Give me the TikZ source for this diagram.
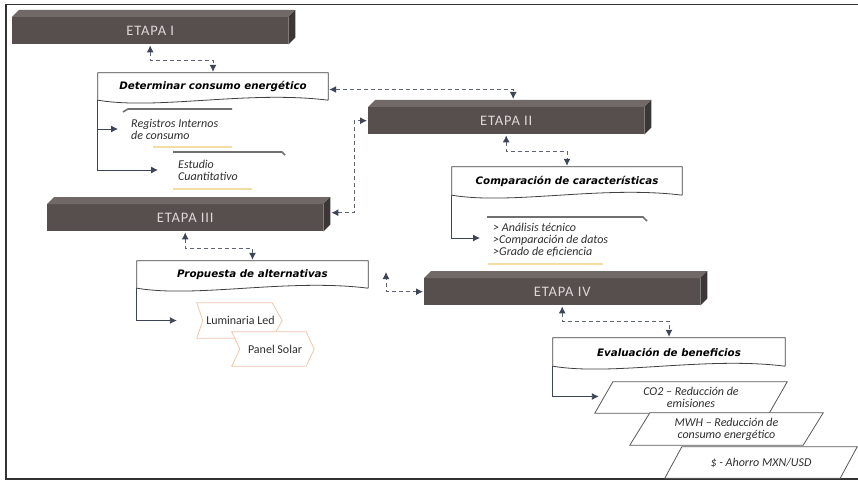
\documentclass[tikz,border=0pt]{standalone}
\usepackage{fontspec}
\setmainfont{Carlito}
\newfontfamily\titlefont{DejaVu Sans}
\newfontfamily\etapafont{Carlito}[LetterSpace=6]
\usetikzlibrary{arrows.meta,calc}

\definecolor{etfront}{HTML}{574F4E}
\definecolor{ettop}{HTML}{706968}
\definecolor{etside}{HTML}{3C3636}
\definecolor{ettext}{HTML}{DCD8D7}
\definecolor{connc}{HTML}{3D4556}
\definecolor{dashc}{HTML}{5E6474}
\definecolor{tabgray}{HTML}{707070}
\definecolor{beige}{HTML}{F2DDA4}
\definecolor{peach}{HTML}{F0C6AC}
\definecolor{itemtext}{HTML}{2E2E2E}

% front face as a node, top and side faces drawn from its anchors
\newcommand{\etapabar}[3]{%
  \node[etapa] (#1) at (#2) {#3};
  \fill[ettop] (#1.north west) -- ++(7,-7) -- ($(#1.north east)+(7,-7)$) -- (#1.north east) -- cycle;
  \fill[etside] (#1.north east) -- ++(7,-7) -- ($(#1.south east)+(7,-7)$) -- (#1.south east) -- cycle;
}
% box with a wavy lower edge around a title node
\newcommand{\docshape}[1]{%
  \draw[docline] (#1.south east) -- (#1.north east) -- (#1.north west) -- (#1.south west)
    .. controls ($(#1.south west)+(60,10)$) and ($(#1.south east)+(-80,-10)$) .. (#1.south east);
}

\begin{document}
\begin{tikzpicture}[x=1pt,y=-1pt,
  etapa/.style={fill=etfront, text=ettext, anchor=north west, minimum width=276,
    minimum height=27, inner sep=0, font=\etapafont\fontsize{14.5}{14.5}\selectfont},
  doctitle/.style={inner sep=0, font=\titlefont\bfseries\itshape\fontsize{10.3}{12}\selectfont},
  docline/.style={draw=black!75, line width=0.8},
  item/.style={inner sep=0, anchor=west, align=left, text=itemtext,
    font=\itshape\fontsize{12}{12}\selectfont},
  tabline/.style={draw=tabgray, line width=1.6},
  baseline/.style={draw=beige, line width=1.2},
  conn/.style={draw=connc, line width=0.9, -{Latex[length=7,width=7]}},
  link/.style={draw=dashc, line width=1, dash pattern=on 4 off 3,
    {Latex[length=7,width=7,color=connc]}-{Latex[length=7,width=7,color=connc]},
    shorten <=1, shorten >=1},
  chev/.style={draw=peach, line width=0.8, fill=white},
  chevtext/.style={inner sep=0, text=itemtext, font=\fontsize{12}{12}\selectfont},
  para/.style={draw=black!65, line width=0.8, fill=white},
  paratext/.style={inner sep=0, align=center, text=itemtext, font=\itshape\fontsize{12}{12}\selectfont}
]
\useasboundingbox (0,0) rectangle (858,481);
\fill[white] (0,0) rectangle (858,481);

% frame
\draw[black!80, line width=1.6] (858,4.5) -- (6,4.5) -- (6,479) -- (858,479);

% stage bars
\etapabar{e1}{12,17}{ETAPA I}
\etapabar{e2}{368,107}{ETAPA II}
\etapabar{e3}{47,204}{ETAPA III}
\etapabar{e4}{424,278}{ETAPA IV}

% title boxes
\node[doctitle, minimum width=230, minimum height=27] (d1) at (213,86.5) {Determinar consumo energético};
\docshape{d1}
\node[doctitle, minimum width=230, minimum height=28] (d2) at (567,181) {Comparación de características};
\docshape{d2}
\node[doctitle, minimum width=231, minimum height=27] (d3) at (252.5,274.5) {Propuesta de alternativas};
\docshape{d3}
\node[doctitle, minimum width=232, minimum height=28] (d4) at (669,352) {Evaluación de beneficios};
\docshape{d4}

% stage I items
\node[item] (reg) at (131,129) {Registros Internos\\de consumo};
\draw[tabline] (123,112) -- (128,109) -- (232,109);
\draw[baseline] (153,147) -- (232,147);
\node[item] (est) at (178,170) {Estudio\\Cuantitativo};
\draw[tabline] (173,152) -- (282,152) -- (285,155);
\draw[baseline] (173,189) -- (252,189);
\draw[conn, shorten >=13] (d1.south west) |- (reg.west);
\draw[conn, shorten >=20] (d1.south west) |- (est.west);

% stage II items
\node[item] (cmp) at (493,240) {> Análisis técnico\\>Comparación de datos\\>Grado de eficiencia};
\draw[tabline] (487,217) -- (643,217) -- (647,221);
\draw[baseline] (488,264) -- (603,264);
\draw[conn, shorten >=13] (d2.south west) |- ([yshift=2]cmp.west);

% stage III items
\node[minimum width=85, minimum height=35, inner sep=0] (lum) at (239.5,320.5) {};
\draw[chev] (lum.north west) -- ($(lum.north east)+(-10,0)$) -- (lum.east) -- ($(lum.south east)+(-10,0)$)
  -- (lum.south west) -- ($(lum.west)+(6,0)$) -- cycle;
\node[chevtext] at ($(lum.center)+(1,0)$) {Luminaria Led};
\node[minimum width=82, minimum height=34, inner sep=0] (pan) at (273,349) {};
\draw[chev] (pan.north west) -- ($(pan.north east)+(-8,0)$) -- (pan.east) -- ($(pan.south east)+(-8,0)$)
  -- (pan.south west) -- ($(pan.west)+(8,0)$) -- cycle;
\node[chevtext] at ($(pan.center)+(2,0)$) {Panel Solar};
\draw[conn, shorten >=20] (d3.south west) |- (lum.west);

% stage IV items
\node[minimum width=192, minimum height=31, inner sep=0] (co2) at (691,397.5) {};
\draw[para] (co2.south west) -- ($(co2.north west)+(18,0)$) -- (co2.north east) -- ($(co2.south east)+(-18,0)$) -- cycle;
\node[paratext] at (co2.center) {CO2 – Reducción de\\emisiones};
\node[minimum width=193, minimum height=32, inner sep=0] (mwh) at (726.5,429) {};
\draw[para] (mwh.south west) -- ($(mwh.north west)+(20,0)$) -- (mwh.north east) -- ($(mwh.south east)+(-20,0)$) -- cycle;
\node[paratext] at (mwh.center) {MWH – Reducción de\\consumo energético};
\node[minimum width=192, minimum height=31, inner sep=0] (usd) at (761,462.5) {};
\draw[para] (usd.south west) -- ($(usd.north west)+(17,0)$) -- (usd.north east) -- ($(usd.south east)+(-17,0)$) -- cycle;
\node[paratext] at (usd.center) {\$ - Ahorro MXN/USD};
\draw[conn] (d4.south west) |- ([xshift=4,yshift=1]co2.west);

% dashed links between stages and their boxes
\draw[link] (e1.south) -- ++(0,16) -| (d1.north);
\draw[link] ([yshift=-3]d1.east) -| ([xshift=7,yshift=7]e2.north);
\draw[link] (e2.south) -- ++(0,17) -| (d2.north);
\draw[link] ([xshift=7,yshift=5]e3.east) -- ++(24,0) |- (e2.west);
\draw[link] (e3.south) -- ++(0,17) -| (d3.north);
\coordinate (ret) at (386,271);
\draw[link] (e4.west) -| (ret);
\draw[link] (e4.south) -- ++(0,16) -| (d4.north);
\end{tikzpicture}
\end{document}
